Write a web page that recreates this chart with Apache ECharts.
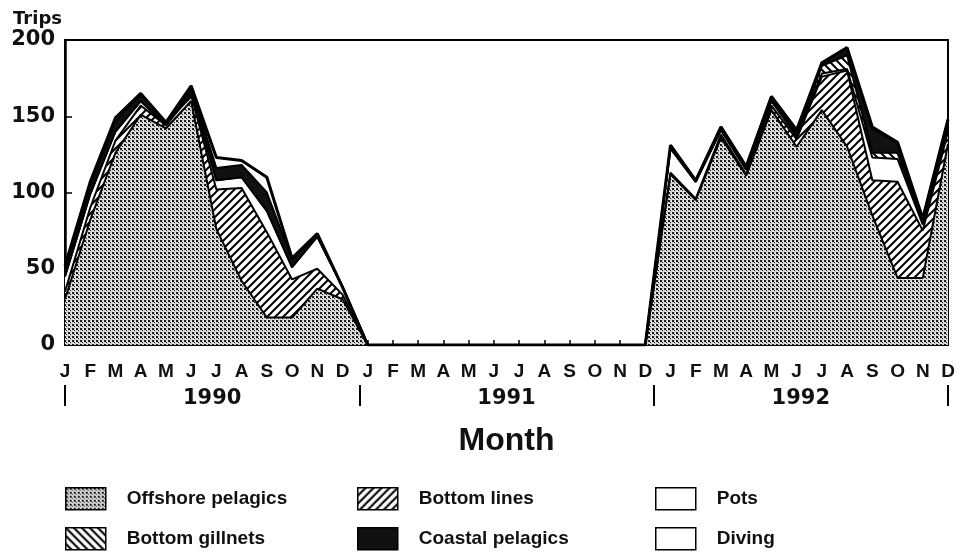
<!DOCTYPE html>
<html>
<head>
<meta charset="utf-8">
<script src="https://cdn.jsdelivr.net/npm/echarts@6/dist/echarts.min.js"></script>
<style>
  html, body { margin: 0; padding: 0; background: #fff; }
  #chart { width: 960px; height: 558px; }
</style>
</head>
<body>
<div id="chart"></div>
<script>
var months = ['J', 'F', 'M', 'A', 'M', 'J', 'J', 'A', 'S', 'O', 'N', 'D',
              'J', 'F', 'M', 'A', 'M', 'J', 'J', 'A', 'S', 'O', 'N', 'D',
              'J', 'F', 'M', 'A', 'M', 'J', 'J', 'A', 'S', 'O', 'N', 'D'];
var years = ['1990', '1991', '1992'];

// trips per month, stacked bottom to top
var offshore    = [30, 82, 126, 151, 142, 160, 76, 42, 18, 18, 37, 30,
                   0, 0, 0, 0, 0, 0, 0, 0, 0, 0, 0, 0,
                   112, 95, 136, 111, 154, 130, 154, 130, 85, 44, 44, 132];
var bottomLines = [5, 8, 8, 6, 2, 4, 26, 61, 56, 25, 13, 3,
                   0, 0, 0, 0, 0, 0, 0, 0, 0, 0, 0, 0,
                   1, 1, 2, 1, 3, 5, 22, 50, 23, 63, 31, 8];
var pots        = [10, 9, 6, 3, 0, 2, 6, 7, 14, 8, 21, 5,
                   0, 0, 0, 0, 0, 0, 0, 0, 0, 0, 0, 0,
                   16, 11, 3, 3, 3, 2, 2, 1, 15, 15, 4, 3];
var gillnets    = [0, 0, 0, 0, 0, 0, 0, 0, 0, 0, 0, 0,
                   0, 0, 0, 0, 0, 0, 0, 0, 0, 0, 0, 0,
                   0, 0, 0, 0, 0, 0, 5, 9, 3, 4, 1, 2];
var coastal     = [5, 6, 7, 4, 2, 3, 8, 8, 12, 5, 2, 0,
                   0, 0, 0, 0, 0, 0, 0, 0, 0, 0, 0, 0,
                   1, 1, 2, 2, 3, 3, 2, 5, 16, 6, 3, 3];
var diving      = [2, 2, 2, 1, 0, 1, 7, 3, 10, 1, 0, 0,
                   0, 0, 0, 0, 0, 0, 0, 0, 0, 0, 0, 0,
                   1, 0, 0, 0, 0, 1, 0, 0, 1, 1, 0, 0];

function tile(w, h, bg, draw) {
    var c = document.createElement('canvas');
    c.width = w;
    c.height = h;
    var ctx = c.getContext('2d');
    ctx.fillStyle = bg;
    ctx.fillRect(0, 0, w, h);
    draw(ctx);
    return { image: c, repeat: 'repeat' };
}

var stipple = tile(4, 4, '#d4d4d4', function (ctx) {
    ctx.fillStyle = '#1a1a1a';
    ctx.fillRect(0, 0, 2, 2);
    ctx.fillRect(2, 2, 1, 1);
    ctx.fillStyle = '#f4f4f4';
    ctx.fillRect(3, 1, 1, 1);
    ctx.fillRect(1, 3, 1, 1);
});

var hatchUp = tile(8, 8, '#fff', function (ctx) {
    ctx.strokeStyle = '#000';
    ctx.lineWidth = 2;
    ctx.beginPath();
    ctx.moveTo(-1, 9); ctx.lineTo(9, -1);
    ctx.moveTo(-1, 1); ctx.lineTo(1, -1);
    ctx.moveTo(7, 9); ctx.lineTo(9, 7);
    ctx.stroke();
});

var hatchDown = tile(8, 8, '#fff', function (ctx) {
    ctx.strokeStyle = '#000';
    ctx.lineWidth = 2;
    ctx.beginPath();
    ctx.moveTo(-1, -1); ctx.lineTo(9, 9);
    ctx.moveTo(7, -1); ctx.lineTo(9, 1);
    ctx.moveTo(-1, 7); ctx.lineTo(1, 9);
    ctx.stroke();
});

var fills = {
    'Offshore pelagics': stipple,
    'Bottom lines': hatchUp,
    'Pots': '#fff',
    'Bottom gillnets': hatchDown,
    'Coastal pelagics': '#111',
    'Diving': '#fff'
};

function layer(name, values, top) {
    return {
        name: name,
        type: 'line',
        stack: 'trips',
        data: values,
        symbol: 'none',
        lineStyle: { color: '#000', width: top ? 3 : 2 },
        itemStyle: { color: '#000' },
        areaStyle: { color: fills[name], opacity: 1 },
        emphasis: { disabled: true }
    };
}

var font = 'Liberation Sans, Arial, sans-serif';
var wideFont = 'DejaVu Sans, Verdana, sans-serif';

// one legend box per entry, laid out as the 3 x 2 key under the chart
function key(name, left, top) {
    return {
        left: left,
        top: top,
        padding: 0,
        icon: 'rect',
        itemWidth: 40,
        itemHeight: 22,
        selectedMode: false,
        textStyle: { fontFamily: font, fontWeight: 'bold', fontSize: 19, color: '#111', padding: [0, 0, 0, 16] },
        data: [{ name: name, itemStyle: { color: fills[name], borderColor: '#000', borderWidth: 1.5 } }]
    };
}

var chart = echarts.init(document.getElementById('chart'), null, { renderer: 'canvas' });

chart.setOption({
    animation: false,
    backgroundColor: '#fff',
    grid: { left: 65, right: 12, top: 40, bottom: 213, show: true, borderColor: '#000', borderWidth: 2 },
    legend: [
        key('Offshore pelagics', 65, 487),
        key('Bottom gillnets', 65, 527),
        key('Bottom lines', 357, 487),
        key('Coastal pelagics', 357, 527),
        key('Pots', 655, 487),
        key('Diving', 655, 527)
    ],
    xAxis: [
        {
            type: 'category',
            data: months,
            boundaryGap: false,
            name: 'Month',
            nameLocation: 'middle',
            nameGap: 80,
            nameTextStyle: { fontFamily: font, fontWeight: 'bold', fontSize: 32, color: '#111' },
            axisLine: { lineStyle: { color: '#000', width: 2 } },
            axisTick: { inside: true, length: 5, lineStyle: { color: '#000', width: 1.5 } },
            axisLabel: { interval: 0, margin: 17, fontFamily: font, fontWeight: 'bold', fontSize: 19, color: '#111' },
            splitLine: { show: false }
        },
        {
            type: 'category',
            data: years,
            position: 'bottom',
            offset: 40,
            boundaryGap: true,
            axisLine: { show: false },
            axisTick: { show: true, length: 21, lineStyle: { color: '#000', width: 2 } },
            axisLabel: { margin: 3, fontFamily: wideFont, fontWeight: 'bold', fontSize: 21, color: '#111' },
            splitLine: { show: false }
        }
    ],
    yAxis: {
        type: 'value',
        min: 0,
        max: 200,
        interval: 50,
        name: 'Trips',
        nameLocation: 'end',
        nameGap: 12,
        nameTextStyle: { fontFamily: wideFont, fontWeight: 'bold', fontSize: 18, color: '#111', align: 'right', padding: [0, 3, 0, 0] },
        axisLine: { show: true, lineStyle: { color: '#000', width: 2.5 } },
        axisTick: { show: true, inside: true, length: 7, lineStyle: { color: '#000', width: 1.5 } },
        axisLabel: { margin: 10, fontFamily: wideFont, fontWeight: 'bold', fontSize: 21, color: '#111' },
        splitLine: { show: false }
    },
    series: [
        layer('Offshore pelagics', offshore),
        layer('Bottom lines', bottomLines),
        layer('Pots', pots),
        layer('Bottom gillnets', gillnets),
        layer('Coastal pelagics', coastal),
        layer('Diving', diving, true)
    ]
});
</script>
</body>
</html>
